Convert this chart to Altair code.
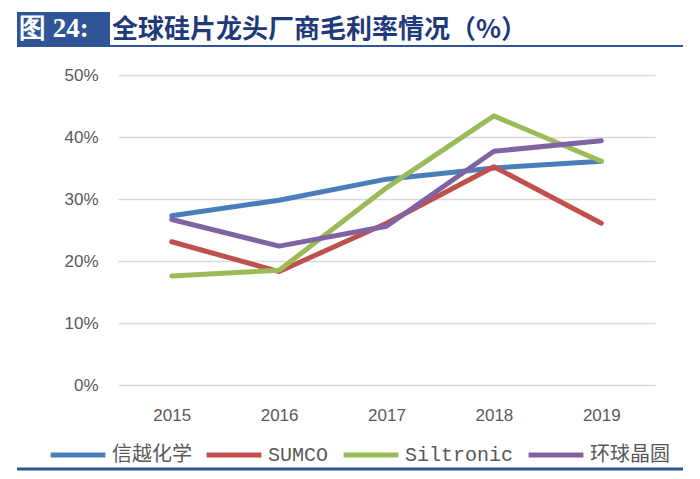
import altair as alt
import pandas as pd

years = ["2015", "2016", "2017", "2018", "2019"]
series = ["信越化学", "SUMCO", "Siltronic", "环球晶圆"]
colors = ["#4A7EBB", "#C0504D", "#9BBB59", "#8064A2"]
shinetsu = [27.3, 29.8, 33.2, 35.0, 36.1]
sumco = [23.1, 18.3, 26.1, 35.2, 26.1]
siltronic = [17.6, 18.5, 31.8, 43.4, 36.1]
globalwafers = [26.7, 22.4, 25.6, 37.7, 39.4]
y_ticks = [0, 10, 20, 30, 40, 50]

rows = []
for name, vals in zip(series, [shinetsu, sumco, siltronic, globalwafers]):
    for yr, v in zip(years, vals):
        rows.append({"year": yr, "series": name, "value": v})
df = pd.DataFrame(rows)

color_scale = alt.Scale(domain=series, range=colors)
x_enc = alt.X("year:O", title=None,
              scale=alt.Scale(type="point", padding=0.5),
              axis=alt.Axis(labelAngle=0, ticks=False, domain=False, grid=False,
                            labelPadding=22, labelFontSize=17, labelColor="#595959",
                            labelFont="Liberation Sans"))
y_enc = alt.Y("value:Q", title=None,
              scale=alt.Scale(domain=[0, 50]),
              axis=alt.Axis(values=y_ticks, labelExpr="datum.value + '%'", ticks=False,
                            domain=False, gridColor="#D9D9D9", gridWidth=1.5,
                            labelPadding=20, labelFontSize=17, labelColor="#595959",
                            labelFont="Liberation Sans"))
legend = alt.Legend(title=None, orient="none", legendX=-70, legendY=350,
                    direction="horizontal", symbolType="stroke", symbolSize=3000,
                    symbolStrokeWidth=5, labelFontSize=20, labelColor="#595959",
                    labelFont="Liberation Mono, Noto Sans CJK SC", columnPadding=4,
                    labelOffset=4)

base = alt.Chart(df)
layers = []
for s in series:
    layers.append(
        base.transform_filter(alt.datum.series == s)
        .mark_line(strokeWidth=5, strokeCap="round", strokeJoin="round")
        .encode(x=x_enc, y=y_enc,
                color=alt.Color("series:N", scale=color_scale, legend=legend))
    )

deco = alt.Chart(pd.DataFrame({"a": [0]}))
box = deco.mark_rect(color="#2F5597").encode(
    x=alt.value(-101), x2=alt.value(-8), y=alt.value(-63), y2=alt.value(-30))
box_text = deco.mark_text(text="图 24:", align="left", baseline="middle",
                          font="Liberation Serif", fontSize=27, fontWeight="bold",
                          color="white").encode(x=alt.value(-99), y=alt.value(-46))
title_text = deco.mark_text(text="全球硅片龙头厂商毛利率情况（%）", align="left",
                            baseline="middle", font="Noto Sans CJK SC", fontSize=26,
                            fontWeight="bold", color="#1F3A7A").encode(
    x=alt.value(-6), y=alt.value(-45))
underline = deco.mark_rule(color="#2F5597", strokeWidth=2).encode(
    x=alt.value(-101), x2=alt.value(565), y=alt.value(-29))
bottom = deco.mark_rule(color="#2F5597", strokeWidth=3).encode(
    x=alt.value(-101), x2=alt.value(565), y=alt.value(394))

chart = alt.layer(*layers, box, box_text, title_text, underline, bottom).properties(
    width=537, height=310,
    autosize=alt.AutoSizeParams(type="none"),
    padding={"left": 110, "top": 67, "right": 37, "bottom": 86},
).configure(background="white").configure_view(stroke=None)

chart.save("out.html", embed_options={"renderer": "svg", "actions": False})
